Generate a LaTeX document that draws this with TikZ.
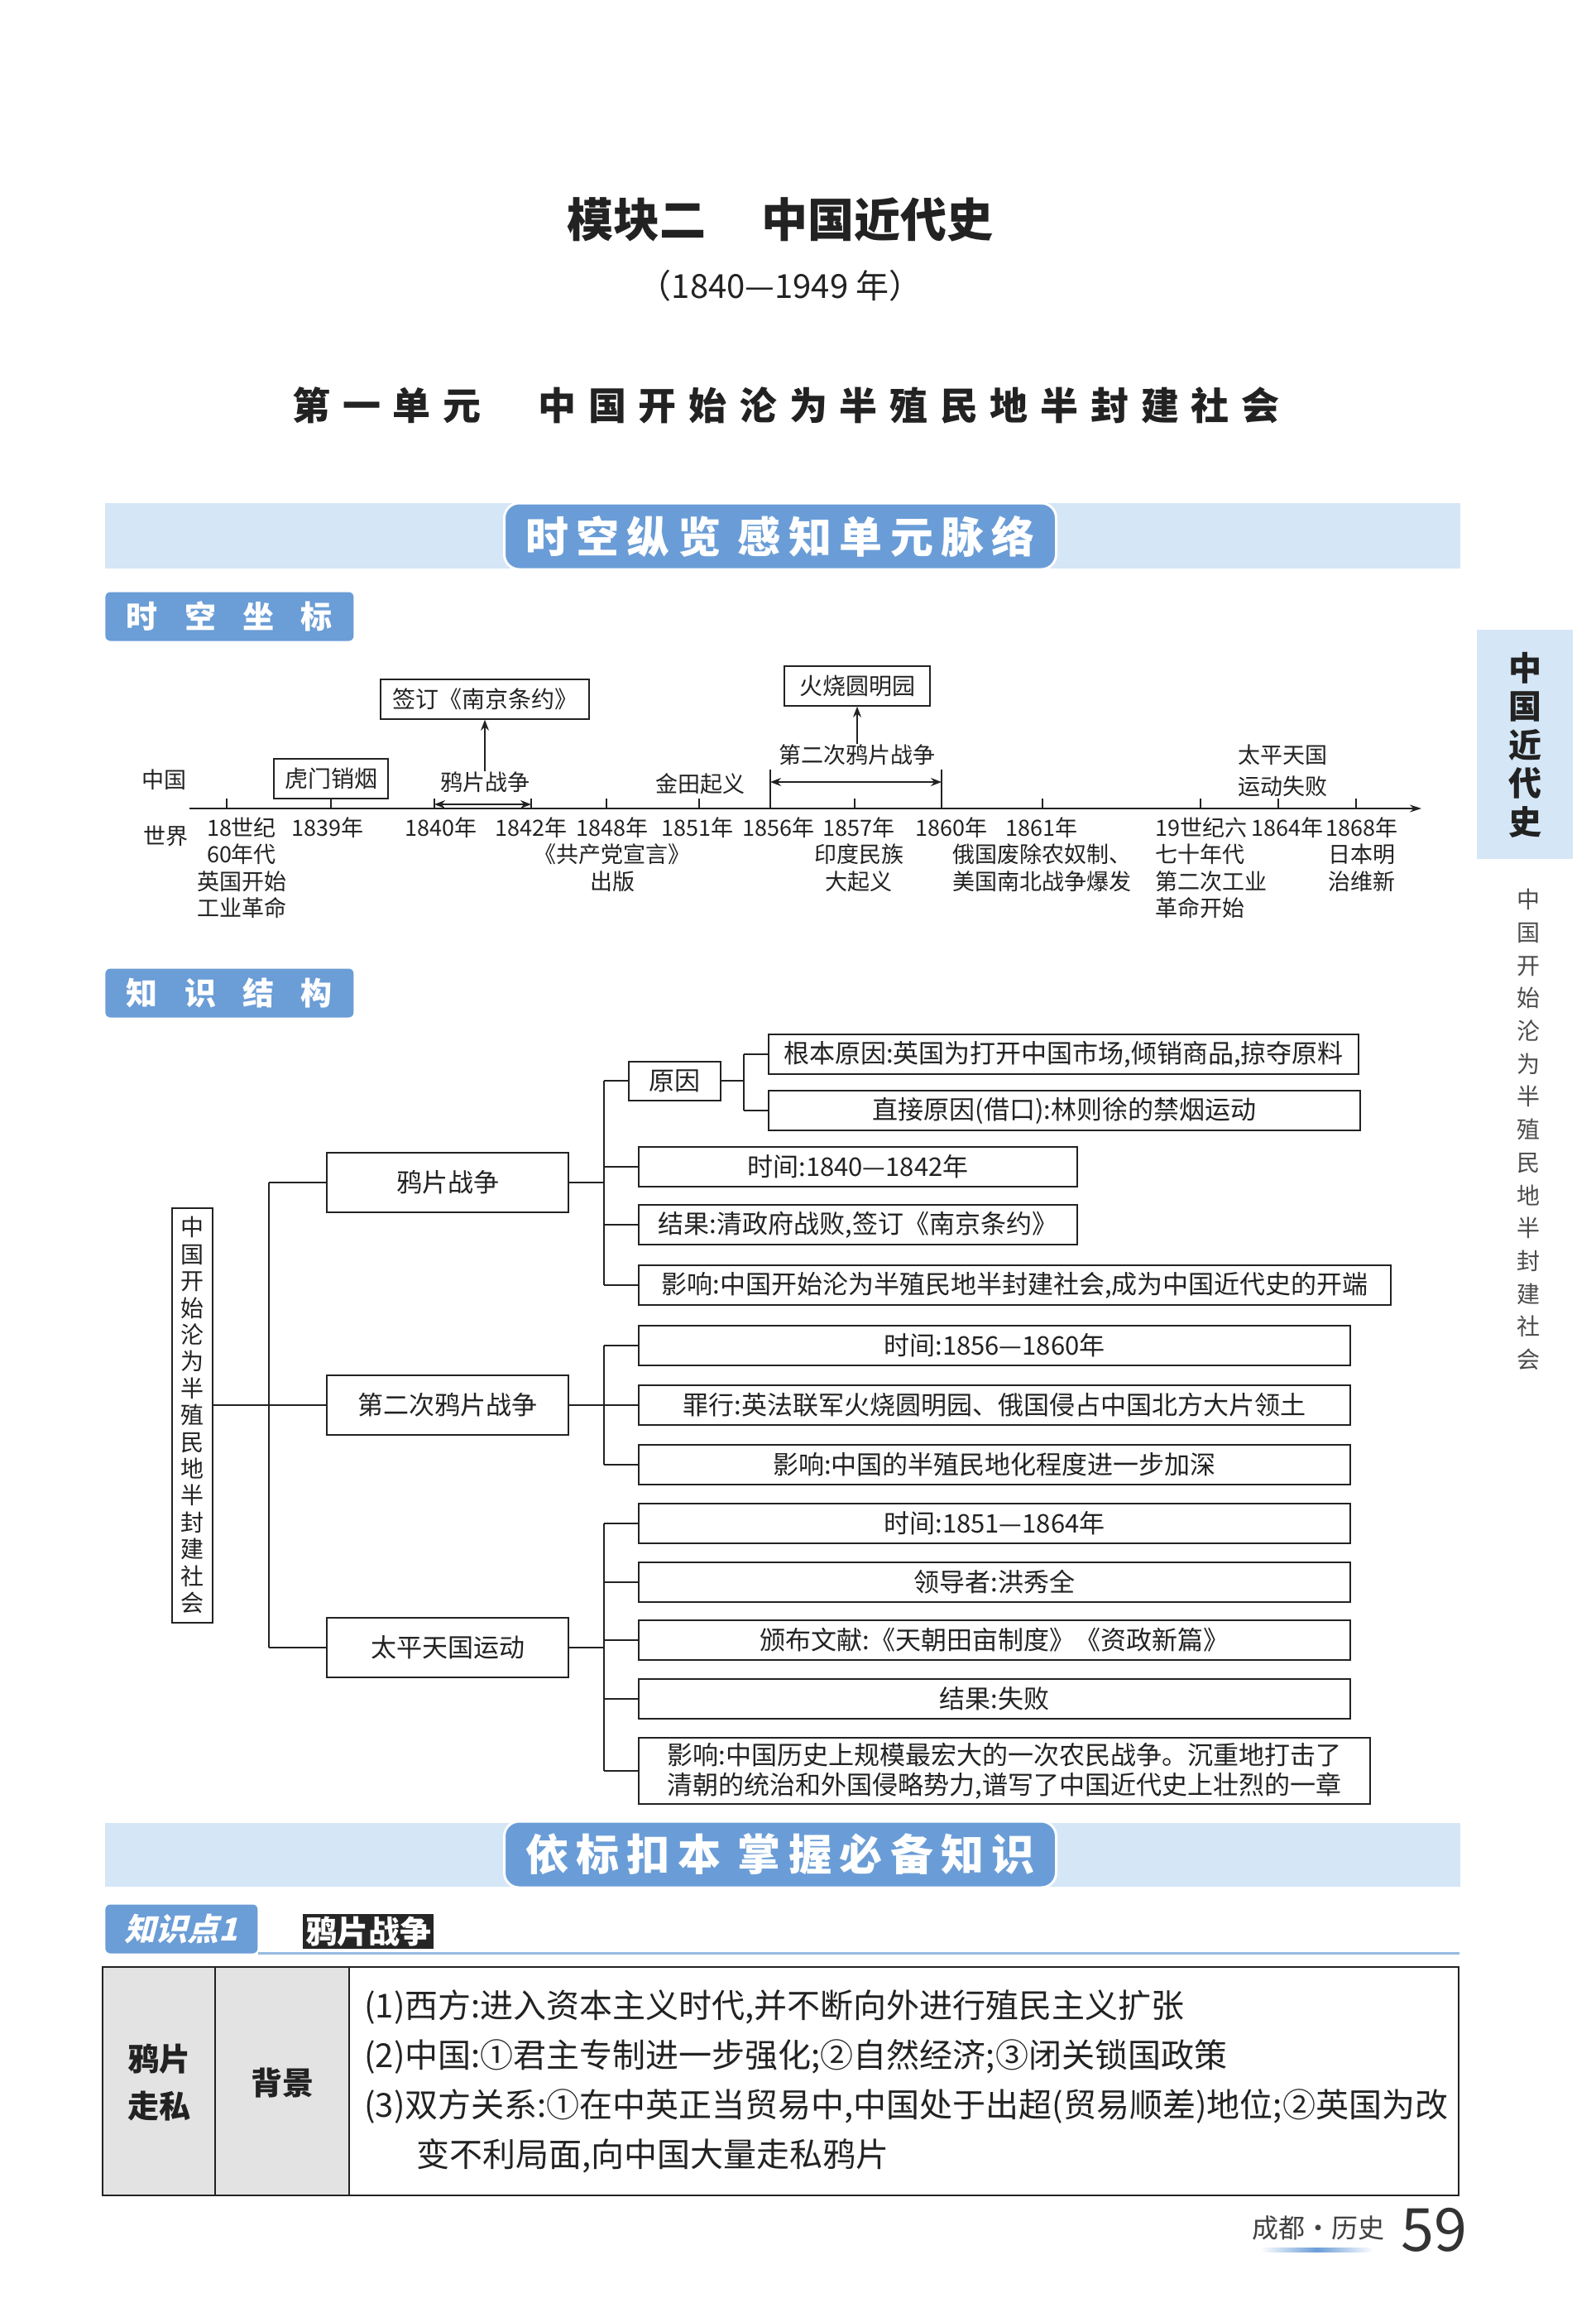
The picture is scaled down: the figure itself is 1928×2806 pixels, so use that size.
\documentclass[tikz,border=0pt]{standalone}
\usepackage{fontspec}
\setmainfont{Noto Sans CJK SC}
\newfontfamily\spacedcjk[LetterSpace=18]{Noto Sans CJK SC}
\newfontfamily\widecjk[LetterSpace=32]{Noto Sans CJK SC}
\newfontfamily\slantcjk[FakeSlant=0.25]{Noto Sans CJK SC}
\usetikzlibrary{arrows.meta,positioning}

\definecolor{bandblue}{HTML}{D5E6F6}
\definecolor{pillblue}{HTML}{6A9DD7}
\definecolor{tabblue}{HTML}{6B9DD6}
\definecolor{cellgray}{HTML}{E3E3E3}
\definecolor{inkgray}{HTML}{222222}

\newcommand{\fsz}[1]{\fontsize{#1}{#1}\selectfont}

\begin{document}
\begin{tikzpicture}[x=0.5pt, y=-0.5pt,
    every node/.style={text=inkgray},
    tl/.style={font=\fontsize{13.5}{16.25}\selectfont, align=center, inner sep=0},
    tlbox/.style={draw=inkgray, line width=0.8pt, font=\fsz{14}, inner sep=0,
                  minimum height=24pt},
    kbox/.style={draw=inkgray, line width=1pt, font=\fsz{15.5}, inner sep=0,
                 minimum height=24pt, anchor=west},
    lbox/.style={draw=inkgray, line width=1pt, font=\fsz{15.5}, inner sep=0,
                 minimum width=146pt, minimum height=36pt},
    pill/.style={fill=pillblue, draw=white, line width=1.5pt, rounded corners=9pt,
                 minimum width=333.5pt, minimum height=40pt, text=white,
                 font=\fsz{26}\spacedcjk\bfseries},
    tab/.style={fill=tabblue, rounded corners=3pt, anchor=west, text=white,
                inner sep=0, minimum height=29.5pt},
    ln/.style={line width=1pt, draw=inkgray},
    arr/.style={-{Stealth[length=6.5pt,width=5pt]}, line width=0.8pt, draw=inkgray},
    darr/.style={{Stealth[length=6.5pt,width=5pt]}-{Stealth[length=6.5pt,width=5pt]},
                 line width=0.8pt, draw=inkgray},
    row/.style={font=\fsz{20}, inner sep=0, anchor=west},
]

\useasboundingbox (0,0) rectangle (1928,2806);
\fill[white] (0,0) rectangle (1928,2806);

% Page heading
\node[font=\fsz{28}\bfseries] (title) at (943,265) {模块二\hspace{1.2em}中国近代史};
\node[font=\fsz{20}] (period) at (943,345) {（1840—1949 年）};
\node[font=\fsz{23}\widecjk\bfseries] (unit) at (950,490)
    {第一单元\hspace{1.5em}中国开始沦为半殖民地半封建社会};

% Side tab
\fill[bandblue] (1785,761) rectangle (1901,1038);
\node[font=\fontsize{20}{23.25}\selectfont\bfseries, align=center] (side1)
    at (1843,900) {中\\国\\近\\代\\史};
\node[font=\fontsize{14}{19.85}\selectfont, align=center, text=black!70] (side2)
    at (1847,1365) {中\\国\\开\\始\\沦\\为\\半\\殖\\民\\地\\半\\封\\建\\社\\会};

% Banner 1
\fill[bandblue] (127,608) rectangle (1765,687);
\node[pill] (pill1) at (943,648) {时空纵览\hspace{0.4em}感知单元脉络};
\node[tab, minimum width=150pt, font=\fsz{19}\bfseries] (tab1) at (127,745)
    {时\hspace{0.85em}空\hspace{0.85em}坐\hspace{0.85em}标};

% Time axis
\coordinate (axstart) at (229,977);
\coordinate (axend) at (1718,977);
\draw[-{Stealth[length=7pt,width=4.5pt]}, line width=0.9pt, draw=inkgray]
    (axstart) -- (axend);
\foreach \x in {274,400,525,642,733,845,1033,1260,1451,1545,1639}
    \draw[line width=0.9pt, inkgray] (\x,977) -- (\x,965);
\foreach \x in {931,1138}
    \draw[line width=0.9pt, inkgray] (\x,977) -- (\x,930);

% China row
\node[tl] (china) at (198,942) {中国};
\node[tlbox, minimum width=69pt] (humen) at (400,941) {虎门销烟};
\node[tl] (opw) at (586,945) {鸦片战争};
\node[tlbox, minimum width=126pt] (nanjing) at (586,845) {签订《南京条约》};
\draw[arr] (opw.north) -- (nanjing.south);
\coordinate (d1a) at (525,972);
\coordinate (d1b) at (642,972);
\draw[darr] (d1a) -- (d1b);
\node[tl] (jintian) at (846,947) {金田起义};
\node[tl] (opw2) at (1036,912) {第二次鸦片战争};
\node[tlbox, minimum width=88pt] (yuanming) at (1036,829) {火烧圆明园};
\draw[arr] (opw2.north) -- (yuanming.south);
\coordinate (d2a) at (931,945);
\coordinate (d2b) at (1138,945);
\draw[darr] (d2a) -- (d2b);
\node[tl, font=\fontsize{13.5}{19}\selectfont] (tpfail) at (1550,931)
    {太平天国\\运动失败};

% World row
\node[tl] (world) at (200,1010) {世界};
\node[tl, anchor=north] (y1760) at (292,987) {18世纪\\60年代\\英国开始\\工业革命};
\node[tl, anchor=north] (y1839) at (396,987) {1839年};
\node[tl, anchor=north] (y1840) at (533,987) {1840年};
\node[tl, anchor=north] (y1842) at (642,987) {1842年};
\node[tl, anchor=north] (y1848) at (740,987) {1848年\\《共产党宣言》\\出版};
\node[tl, anchor=north] (y1851) at (843,987) {1851年};
\node[tl, anchor=north] (y1856) at (941,987) {1856年};
\node[tl, anchor=north] (y1857) at (1038,987) {1857年\\印度民族\\大起义};
\node[tl, anchor=north] (y1860) at (1150,987) {1860年};
\node[tl, anchor=north] (y1861) at (1259,987) {1861年\\俄国废除农奴制、\\美国南北战争爆发};
\node[tl, anchor=north west, align=left] (y1870) at (1396,987)
    {19世纪六\\七十年代\\第二次工业\\革命开始};
\node[tl, anchor=north] (y1864) at (1556,987) {1864年};
\node[tl, anchor=north] (y1868) at (1646,987) {1868年\\日本明\\治维新};

% Knowledge structure
\node[tab, minimum width=150pt, font=\fsz{19}\bfseries] (tab2) at (127,1200)
    {知\hspace{0.85em}识\hspace{0.85em}结\hspace{0.85em}构};

\node[draw=inkgray, line width=1pt, inner sep=0, minimum width=24.5pt,
      minimum height=250.5pt, align=center,
      font=\fontsize{14}{16.2}\selectfont] (root) at (232,1710)
    {中\\国\\开\\始\\沦\\为\\半\\殖\\民\\地\\半\\封\\建\\社\\会};
\node[lbox] (opium) at (541,1429) {鸦片战争};
\node[lbox] (opium2) at (541,1698) {第二次鸦片战争};
\node[lbox] (taiping) at (541,1991) {太平天国运动};
\coordinate (rt) at (325,0);
\coordinate (bt) at (730,0);
\coordinate (ct) at (899,0);
\draw[ln] (root.east |- opium2) -- (opium2.west);
\draw[ln] (opium.west -| rt) -- (taiping.west -| rt);
\foreach \n in {opium,taiping}
    \draw[ln] (\n.west -| rt) -- (\n.west);

% Opium war
\node[draw=inkgray, line width=1pt, inner sep=0, minimum width=55.5pt,
      minimum height=23.5pt, font=\fsz{15.5}] (cause) at (815,1306) {原因};
\node[kbox, minimum width=356.5pt] (basic) at (928,1274)
    {根本原因:英国为打开中国市场,倾销商品,掠夺原料};
\node[kbox, minimum width=357.5pt] (direct) at (928,1342)
    {直接原因(借口):林则徐的禁烟运动};
\node[kbox, minimum width=265pt] (time1) at (771,1410) {时间:1840—1842年};
\node[kbox, minimum width=265pt] (result1) at (771,1480)
    {结果:清政府战败,签订《南京条约》};
\node[kbox, minimum width=454.5pt] (effect1) at (771,1553)
    {影响:中国开始沦为半殖民地半封建社会,成为中国近代史的开端};
\draw[ln] (opium.east) -- (opium.east -| bt);
\draw[ln] (cause.west -| bt) -- (effect1.west -| bt);
\foreach \n in {cause,time1,result1,effect1}
    \draw[ln] (\n.west -| bt) -- (\n.west);
\draw[ln] (cause.east) -- (cause.east -| ct);
\draw[ln] (basic.west -| ct) -- (direct.west -| ct);
\foreach \n in {basic,direct}
    \draw[ln] (\n.west -| ct) -- (\n.west);

% Second opium war
\node[kbox, minimum width=430pt] (time2) at (771,1626) {时间:1856—1860年};
\node[kbox, minimum width=430pt] (crime) at (771,1698)
    {罪行:英法联军火烧圆明园、俄国侵占中国北方大片领土};
\node[kbox, minimum width=430pt] (effect2) at (771,1770)
    {影响:中国的半殖民地化程度进一步加深};
\draw[ln] (opium2.east) -- (opium2.east -| bt);
\draw[ln] (time2.west -| bt) -- (effect2.west -| bt);
\foreach \n in {time2,crime,effect2}
    \draw[ln] (\n.west -| bt) -- (\n.west);

% Taiping movement
\node[kbox, minimum width=430pt] (time3) at (771,1841) {时间:1851—1864年};
\node[kbox, minimum width=430pt] (leader) at (771,1912) {领导者:洪秀全};
\node[kbox, minimum width=430pt] (docs) at (771,1982)
    {颁布文献:《天朝田亩制度》《资政新篇》};
\node[kbox, minimum width=430pt] (result3) at (771,2053) {结果:失败};
\node[kbox, minimum width=442pt, minimum height=40pt, align=left,
      font=\fontsize{15.5}{18}\selectfont] (effect3) at (771,2140)
    {影响:中国历史上规模最宏大的一次农民战争。沉重地打击了\\
     清朝的统治和外国侵略势力,谱写了中国近代史上壮烈的一章};
\draw[ln] (taiping.east) -- (taiping.east -| bt);
\draw[ln] (time3.west -| bt) -- (effect3.west -| bt);
\foreach \n in {time3,leader,docs,result3,effect3}
    \draw[ln] (\n.west -| bt) -- (\n.west);

% Banner 2
\fill[bandblue] (127,2203) rectangle (1765,2280);
\node[pill] (pill2) at (943,2241) {依标扣本\hspace{0.4em}掌握必备知识};
\node[tab, minimum width=92pt, font=\fsz{19}\slantcjk\bfseries] (kp1) at (127,2331)
    {知识点1};
\node[fill=black!85, text=white, font=\fsz{19}\bfseries, inner sep=1.5pt,
      anchor=west] (kp1title) at (366,2334) {鸦片战争};
\draw[tabblue!70, line width=1.5pt] (kp1.south east) -- ++(1452,0);

% Table
\fill[cellgray] (124,2377) rectangle (422,2653);
\draw[line width=1.2pt, inkgray] (124,2377) rectangle (1763,2653);
\draw[line width=0.8pt, inkgray] (260,2377) -- (260,2653) (422,2377) -- (422,2653);
\node[font=\fontsize{19}{28.5}\selectfont\bfseries, align=center] (smuggle)
    at (192,2517) {鸦片\\走私};
\node[font=\fsz{19}\bfseries] (backdrop) at (341,2517) {背景};
\node[row] (west) at (440,2425) {(1)西方:进入资本主义时代,并不断向外进行殖民主义扩张};
\node[row] (china2) at (440,2485) {(2)中国:①君主专制进一步强化;②自然经济;③闭关锁国政策};
\node[row] (both) at (440,2545)
    {(3)双方关系:①在中英正当贸易中,中国处于出超(贸易顺差)地位;②英国为改};
\node[row] (both2) at (503,2605) {变不利局面,向中国大量走私鸦片};

% Footer
\node[font=\fsz{16}, text=black!75] (book) at (1593,2692) {成都·历史};
\shade[left color=white, right color=white, middle color=pillblue]
    (1523,2716) rectangle (1660,2721);
\node[font=\fsz{36}, text=black!80] (page) at (1733,2695) {59};

\end{tikzpicture}
\end{document}
